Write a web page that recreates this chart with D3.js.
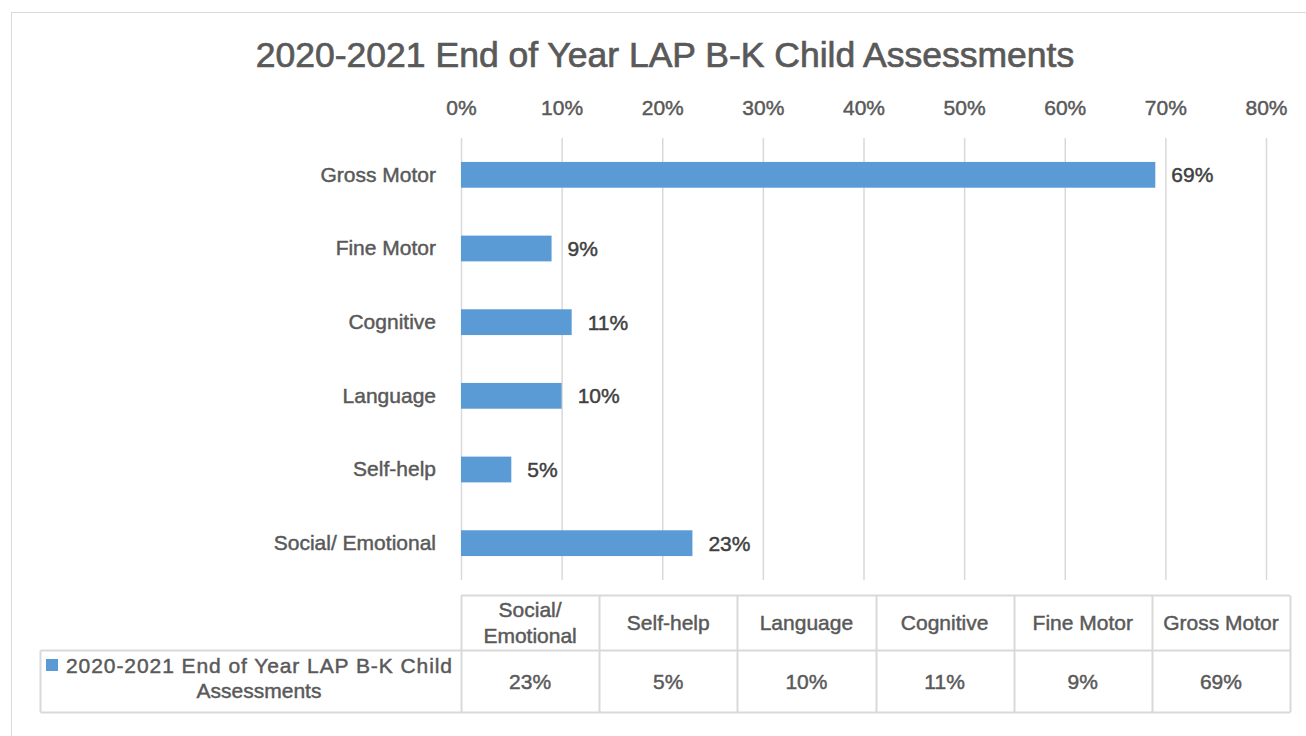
<!DOCTYPE html>
<html>
<head>
<meta charset="utf-8">
<script src="https://cdn.jsdelivr.net/npm/d3@7"></script>
<style>
  body { margin: 0; background: #fff; }
  svg { font-family: "Liberation Sans", Arial, sans-serif; }
  svg text { paint-order: stroke; stroke-width: 0.45px; }
</style>
</head>
<body>
<svg width="1306" height="736"></svg>
<script>
let width = 1306,
    height = 736;

let title = "2020-2021 End of Year LAP B-K Child Assessments";
let seriesName = "2020-2021 End of Year LAP B-K Child Assessments";

// bottom-to-top order as in the data table
let categories = ["Social/ Emotional", "Self-help", "Language", "Cognitive", "Fine Motor", "Gross Motor"];
let tableHeads = [["Social/", "Emotional"], ["Self-help"], ["Language"], ["Cognitive"], ["Fine Motor"], ["Gross Motor"]];
let values = [0.23, 0.05, 0.10, 0.11, 0.09, 0.69];
let ticks = [0, 0.1, 0.2, 0.3, 0.4, 0.5, 0.6, 0.7, 0.8];

let barColor = "#5b9bd5",
    gridColor = "#d9d9d9",
    textColor = "#595959",
    labelColor = "#404040";

let plotLeft = 461, plotRight = 1266, plotTop = 138, plotBottom = 580;

let svg = d3.select("svg");

// outer chart border
svg.append("rect")
    .attr("x", 11.5).attr("y", 12.5)
    .attr("width", width + 20).attr("height", height + 20)
    .attr("fill", "none")
    .attr("stroke", gridColor);

let x = d3.scaleLinear().domain([0, 0.8]).range([plotLeft, plotRight]);
let y = d3.scaleBand()
    .domain(categories.slice().reverse())
    .range([plotTop, plotBottom])
    .paddingInner(0.65)
    .paddingOuter(0.325);

svg.append("text")
    .attr("x", 665).attr("y", 67)
    .attr("text-anchor", "middle")
    .attr("font-size", 35.5)
    .attr("fill", textColor)
    .attr("stroke", textColor)
    .style("stroke-width", "0.7px")
    .text(title);

// gridlines
svg.append("g")
    .selectAll("line")
    .data(ticks)
    .join("line")
    .attr("x1", d => x(d) + 0.5).attr("x2", d => x(d) + 0.5)
    .attr("y1", plotTop).attr("y2", plotBottom)
    .attr("stroke", gridColor)
    .attr("stroke-width", 1.5);

// top axis
let axis = svg.append("g")
    .attr("transform", `translate(0,${plotTop - 20})`)
    .call(d3.axisTop(x).tickValues(ticks).tickFormat(d3.format(".0%")).tickSize(0));
axis.select(".domain").remove();
axis.selectAll("text")
    .attr("font-size", 21)
    .attr("font-family", "Liberation Sans, Arial, sans-serif")
    .attr("fill", textColor)
    .attr("stroke", textColor);

// category axis
let yAxis = svg.append("g")
    .attr("transform", `translate(${plotLeft - 22},0)`)
    .call(d3.axisLeft(y).tickSize(0));
yAxis.select(".domain").remove();
yAxis.selectAll("text")
    .attr("font-size", 21)
    .attr("font-family", "Liberation Sans, Arial, sans-serif")
    .attr("fill", textColor)
    .attr("stroke", textColor);

let rows = categories.map((c, i) => ({cat: c, value: values[i]}));

svg.append("g")
    .selectAll("rect")
    .data(rows)
    .join("rect")
    .attr("x", x(0))
    .attr("y", d => y(d.cat))
    .attr("width", d => x(d.value) - x(0))
    .attr("height", y.bandwidth())
    .attr("fill", barColor);

svg.append("g")
    .selectAll("text")
    .data(rows)
    .join("text")
    .attr("x", d => x(d.value) + 16)
    .attr("y", d => y(d.cat) + y.bandwidth() / 2)
    .attr("dy", "0.35em")
    .attr("font-size", 21)
    .attr("fill", labelColor)
    .attr("stroke", labelColor)
    .text(d => d3.format(".0%")(d.value));

// data table
let colX = d3.scaleBand().domain(d3.range(categories.length)).range([461, 1290]);
let tLeft = 40.5, tTop = 595.5, tMid = 650.5, tBot = 712.5;

let table = svg.append("g");
table.append("line").attr("x1", colX(0)).attr("x2", 1290).attr("y1", tTop).attr("y2", tTop);
table.append("line").attr("x1", tLeft).attr("x2", 1290).attr("y1", tMid).attr("y2", tMid);
table.append("line").attr("x1", tLeft).attr("x2", 1290).attr("y1", tBot).attr("y2", tBot);
table.append("line").attr("x1", tLeft).attr("x2", tLeft).attr("y1", tMid).attr("y2", tBot);
table.selectAll(".col")
    .data(d3.range(categories.length + 1))
    .join("line")
    .attr("class", "col")
    .attr("x1", i => Math.round(i < categories.length ? colX(i) : 1290) + 0.5)
    .attr("x2", i => Math.round(i < categories.length ? colX(i) : 1290) + 0.5)
    .attr("y1", tTop).attr("y2", tBot);
table.selectAll("line").attr("stroke", gridColor).attr("stroke-width", 2);

tableHeads.forEach((lines, i) => {
    let cx = colX(i) + colX.bandwidth() / 2;
    let t = table.append("text")
        .attr("text-anchor", "middle")
        .attr("font-size", 21)
        .attr("fill", textColor)
        .attr("stroke", textColor);
    let y0 = lines.length === 1 ? 630 : 617;
    lines.forEach((l, j) => t.append("tspan").attr("x", cx).attr("y", y0 + j * 26).text(l));
});

table.selectAll(".val")
    .data(values)
    .join("text")
    .attr("class", "val")
    .attr("x", (d, i) => colX(i) + colX.bandwidth() / 2)
    .attr("y", 689)
    .attr("text-anchor", "middle")
    .attr("font-size", 21)
    .attr("fill", textColor)
    .attr("stroke", textColor)
    .text(d => d3.format(".0%")(d));

// legend key + series name
table.append("rect")
    .attr("x", 46).attr("y", 659)
    .attr("width", 12).attr("height", 12)
    .attr("fill", barColor);
table.append("text")
    .attr("x", 66).attr("y", 673)
    .attr("font-size", 21)
    .attr("fill", textColor)
    .attr("stroke", textColor)
    .attr("textLength", 386)
    .attr("lengthAdjust", "spacing")
    .text(seriesName.replace(" Assessments", ""));
table.append("text")
    .attr("x", 259).attr("y", 698)
    .attr("text-anchor", "middle")
    .attr("font-size", 21)
    .attr("fill", textColor)
    .attr("stroke", textColor)
    .text("Assessments");
</script>
</body>
</html>
